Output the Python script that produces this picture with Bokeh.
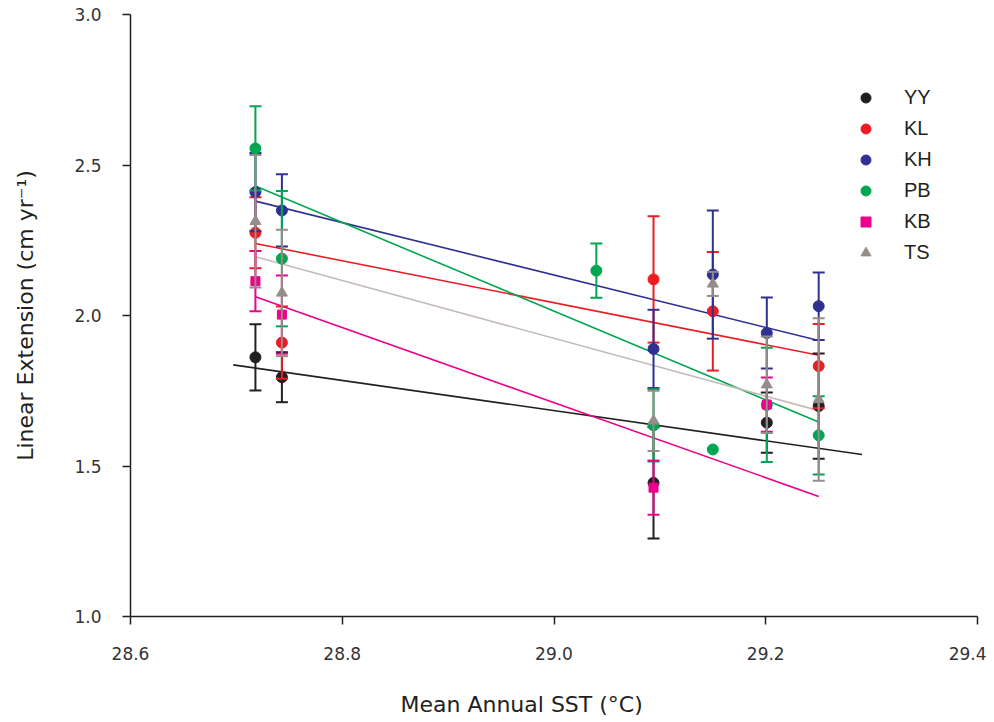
from bokeh.plotting import figure
from bokeh.models import (Range1d, FixedTicker, PrintfTickFormatter, Legend, LegendItem,
                          Title, LinearAxis, CustomJSTickFormatter)
from bokeh.embed import file_html
from bokeh.resources import INLINE

# ---------------- data ----------------
series_names = ["YY", "KL", "KH", "PB", "KB", "TS"]

yy_sst = [28.718, 28.743, 29.094, 29.201, 29.250]
yy_ext = [1.861, 1.795, 1.444, 1.644, 1.699]
yy_err = [0.110, 0.083, 0.185, 0.100, 0.175]

kl_sst = [28.718, 28.743, 29.094, 29.150, 29.250]
kl_ext = [2.275, 1.910, 2.120, 2.014, 1.832]
kl_err = [0.118, 0.120, 0.210, 0.197, 0.140]

kh_sst = [28.718, 28.743, 29.094, 29.150, 29.201, 29.250]
kh_ext = [2.410, 2.349, 1.889, 2.136, 1.942, 2.031]
kh_err = [0.130, 0.120, 0.130, 0.213, 0.118, 0.112]

pb_sst = [28.718, 28.743, 29.040, 29.094, 29.150, 29.201, 29.250]
pb_ext = [2.555, 2.189, 2.149, 1.635, 1.555, 1.703, 1.602]
pb_err = [0.140, 0.225, 0.090, 0.120, 0.000, 0.190, 0.130]

kb_sst = [28.718, 28.743, 29.094, 29.201]
kb_ext = [2.114, 2.003, 1.428, 1.704]
kb_err = [0.100, 0.130, 0.090, 0.090]

ts_sst = [28.718, 28.743, 29.094, 29.150, 29.201, 29.250]
ts_ext = [2.313, 2.075, 1.650, 2.105, 1.770, 1.721]
ts_err = [0.220, 0.210, 0.100, 0.040, 0.160, 0.270]

# regression line end points (YY, KL, KH, PB, KB, TS)
fit_x_start = [28.697, 28.718, 28.718, 28.718, 28.718, 28.718]
fit_x_end = [29.291, 29.250, 29.250, 29.250, 29.250, 29.250]
fit_y_start = [1.836, 2.239, 2.380, 2.430, 2.062, 2.195]
fit_y_end = [1.538, 1.868, 1.917, 1.646, 1.399, 1.684]

x_ticks = [28.6, 28.8, 29.0, 29.2, 29.4]
y_ticks = [1.0, 1.5, 2.0, 2.5, 3.0]

x_title = "Mean Annual SST (°C)"
y_title = "Linear Extension (cm yr⁻¹)"

# ---------------- styles ----------------
marker_colors = ["#231f20", "#ed1c24", "#2e3192", "#00a651", "#ec008c", "#968c89"]
line_colors = ["#231f20", "#ed1c24", "#2e3192", "#00a651", "#ec008c", "#c4bcb9"]
markers = ["circle", "circle", "circle", "circle", "square", "triangle"]
marker_sizes = [11, 11, 11, 11, 9, 11]

all_data = [
    (yy_sst, yy_ext, yy_err),
    (kl_sst, kl_ext, kl_err),
    (kh_sst, kh_ext, kh_err),
    (pb_sst, pb_ext, pb_err),
    (kb_sst, kb_ext, kb_err),
    (ts_sst, ts_ext, ts_err),
]

p = figure(
    width=986, height=720,
    x_range=Range1d(28.6, 29.4), y_range=Range1d(1.0, 3.0),
    output_backend="svg", toolbar_location=None,
    min_border_left=130, min_border_top=14, min_border_right=9, min_border_bottom=104,
)
p.outline_line_color = None
p.xgrid.visible = False
p.ygrid.visible = False
p.background_fill_color = "white"
p.border_fill_color = "white"

# regression lines
for i in range(len(series_names)):
    p.line([fit_x_start[i], fit_x_end[i]], [fit_y_start[i], fit_y_end[i]],
           line_color=line_colors[i], line_width=1.6)

# error bars + markers
marker_renderers = []
for i, (xs, ys, es) in enumerate(all_data):
    c = marker_colors[i]
    bx = [x for x, e in zip(xs, es) if e > 0]
    lo = [y - e for y, e in zip(ys, es) if e > 0]
    hi = [y + e for y, e in zip(ys, es) if e > 0]
    p.segment(x0=bx, y0=lo, x1=bx, y1=hi, line_color=c, line_width=2)
    p.scatter(bx + bx, lo + hi, marker="dash", size=12, line_color=c, line_width=2)
    r = p.scatter(xs, ys, marker=markers[i], size=marker_sizes[i],
                  fill_color=c, line_color=c)
    marker_renderers.append(r)

# axes
for ax in (p.xaxis[0], p.yaxis[0]):
    ax.axis_line_color = "#231f20"
    ax.axis_line_width = 1.5
    ax.major_tick_line_color = "#231f20"
    ax.major_tick_line_width = 1.5
    ax.major_tick_out = 8
    ax.major_tick_in = 0
    ax.minor_tick_line_color = None
    ax.major_label_text_font = "DejaVu Sans"
    ax.major_label_text_font_size = "17px"
    ax.major_label_text_color = "#333333"
    ax.axis_label_text_font = "DejaVu Sans"
    ax.axis_label_text_font_size = "22px"
    ax.axis_label_text_font_style = "normal"
    ax.axis_label_text_color = "#231f20"
    ax.formatter = PrintfTickFormatter(format="%.1f")

p.xaxis.ticker = FixedTicker(ticks=x_ticks)
p.yaxis.ticker = FixedTicker(ticks=y_ticks)
p.yaxis.axis_label = y_title
p.xaxis.major_label_standoff = 22
p.yaxis.major_label_standoff = 21
p.yaxis.axis_label_standoff = 33

# invisible spacer between tick labels and the x title
spacer = LinearAxis(
    ticker=FixedTicker(ticks=[29.0]), axis_line_color=None,
    major_tick_line_color="white", minor_tick_line_color=None,
    major_tick_out=26, major_tick_in=0, minor_tick_out=0, minor_tick_in=0,
    major_label_standoff=0, major_label_text_font_size="1px",
    formatter=CustomJSTickFormatter(code="return ''"),
)
p.add_layout(spacer, "below")

# x-axis title (sits slightly left of the frame centre in the reference)
p.add_layout(Title(
    text=x_title, align="left", offset=270, standoff=2,
    text_font="DejaVu Sans", text_font_size="22px", text_font_style="normal",
    text_color="#231f20",
), "below")

legend = Legend(
    items=[LegendItem(label=n, renderers=[r]) for n, r in zip(series_names, marker_renderers)],
    location=(723, 351),
    glyph_width=25, glyph_height=25, spacing=6, padding=0, margin=0,
    label_standoff=26,
    label_text_font="Liberation Sans", label_text_font_size="20px",
    label_text_color="#231f20",
    border_line_color=None, background_fill_alpha=0,
)
p.add_layout(legend)

open("out.html", "w").write(file_html(p, INLINE))
